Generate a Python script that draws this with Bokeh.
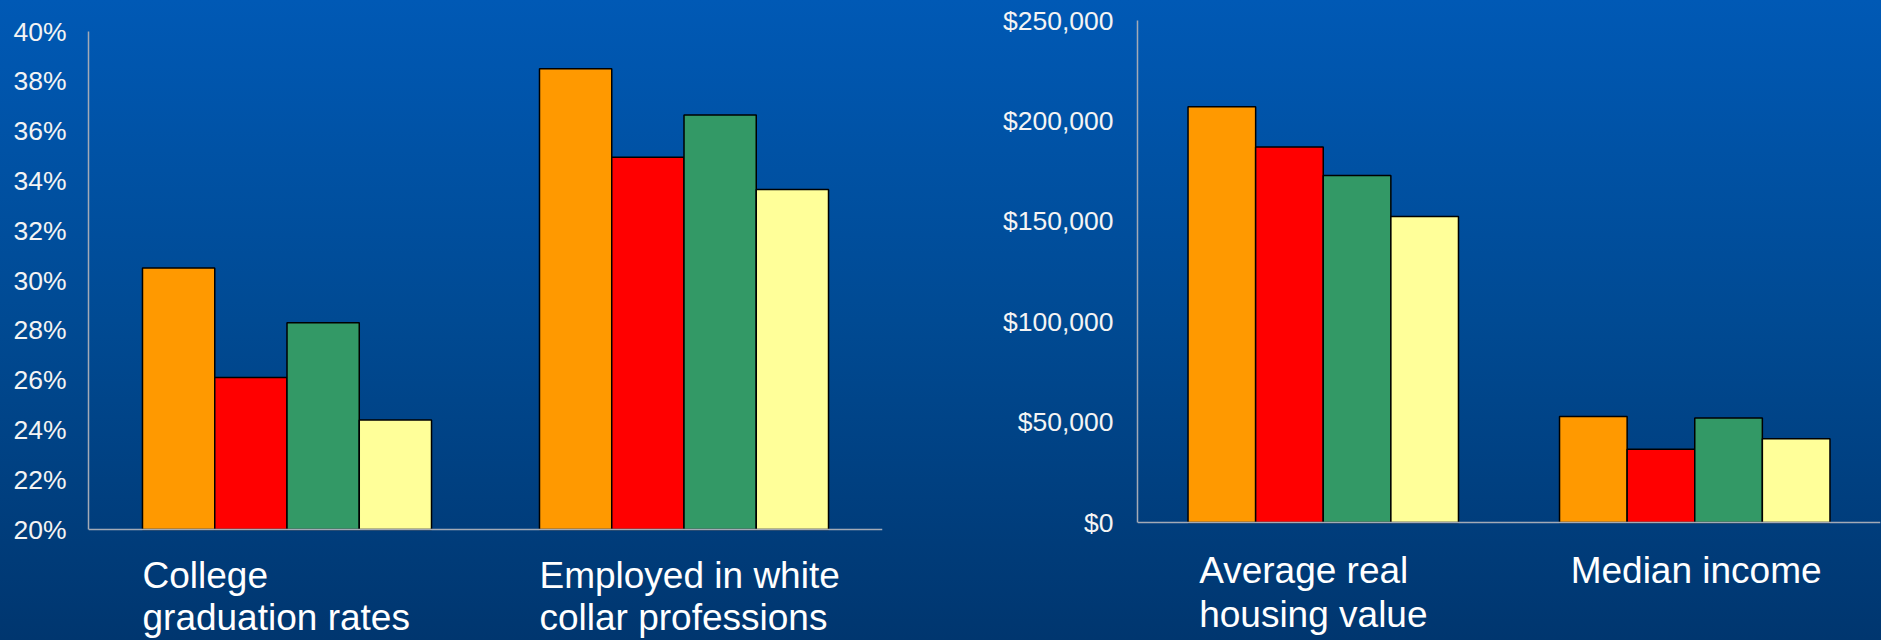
from bokeh.plotting import figure
from bokeh.layouts import row
from bokeh.models import Range1d, Span, FixedTicker
from bokeh.embed import file_html
from bokeh.resources import INLINE
from bokeh.core.properties import value

# ---------------- data ----------------
series_colors = ["#FF9900", "#FF0000", "#339966", "#FFFF99"]

left_categories = ["College\ngraduation rates", "Employed in white\ncollar professions"]
left_series_1 = [30.5, 38.5]
left_series_2 = [26.1, 34.95]
left_series_3 = [28.3, 36.65]
left_series_4 = [24.4, 33.65]
left_ticks = [20, 22, 24, 26, 28, 30, 32, 34, 36, 38, 40]
left_tick_labels = ["20%", "22%", "24%", "26%", "28%", "30%", "32%", "34%", "36%", "38%", "40%"]

right_categories = ["Average real\nhousing value", "Median income"]
right_series_1 = [207000, 52800]
right_series_2 = [187000, 36500]
right_series_3 = [172800, 52000]
right_series_4 = [152400, 41700]
right_ticks = [0, 50000, 100000, 150000, 200000, 250000]
right_tick_labels = ["$0", "$50,000", "$100,000", "$150,000", "$200,000", "$250,000"]

# ---------------- style ----------------
FONT = "Liberation Sans"
AXIS_COLOR = "#a3aab6"
TICK_TEXT = "#f4f4f4"
BAR_W = 0.182
HEIGHT = 640
BORDER_TOP = 20


def make_chart(categories, series, ticks, tick_labels, width, border_left, border_right,
               tick_top_px, base_px, label_shift, label_offsets, standoff):
    base = ticks[0]
    top = ticks[-1]
    units_per_px = (top - base) / (base_px - tick_top_px)
    range_top = top + (tick_top_px - BORDER_TOP) * units_per_px
    range_bottom = base - (HEIGHT - base_px) * units_per_px
    n = len(categories)
    p = figure(width=width, height=HEIGHT,
               x_range=Range1d(0, n), y_range=Range1d(range_bottom, range_top),
               x_axis_location=None, output_backend="svg", toolbar_location=None,
               min_border_left=border_left, min_border_right=border_right,
               min_border_top=BORDER_TOP, min_border_bottom=0)
    p.background_fill_alpha = 0
    p.border_fill_alpha = 0
    p.outline_line_color = None
    p.xgrid.visible = False
    p.ygrid.visible = False

    ax = p.yaxis[0]
    ax.ticker = FixedTicker(ticks=ticks)
    ax.major_label_overrides = {t: l for t, l in zip(ticks, tick_labels)}
    ax.bounds = (base, top)
    ax.axis_line_color = AXIS_COLOR
    ax.axis_line_width = 1.5
    ax.major_tick_line_color = None
    ax.minor_tick_line_color = None
    ax.major_label_text_font = FONT
    ax.major_label_text_font_size = "26.5px"
    ax.major_label_text_color = TICK_TEXT
    ax.major_label_standoff = standoff

    p.add_layout(Span(location=base, dimension="width", line_color=AXIS_COLOR, line_width=1.5))

    for j, (vals, color) in enumerate(zip(series, series_colors)):
        xs = [i + 0.5 + (j - 1.5) * BAR_W for i in range(n)]
        p.vbar(x=xs, top=vals, bottom=base, width=BAR_W, fill_color=color,
               line_color="black", line_width=1.5)

    lines = [c.split("\n") for c in categories]
    for k, off in enumerate(label_offsets):
        xs, ys, ts = [], [], []
        for i, ls in enumerate(lines):
            if k < len(ls):
                xs.append(i + 0.5 + label_shift)
                ys.append(base)
                ts.append(ls[k])
        p.text(x=xs, y=ys, text=ts, y_offset=off, text_font=value(FONT),
               text_font_size="37px", text_color="white",
               text_align="left", text_baseline="alphabetic")
    return p


left = make_chart(left_categories,
                  [left_series_1, left_series_2, left_series_3, left_series_4],
                  left_ticks, left_tick_labels,
                  width=940, border_left=88, border_right=58,
                  tick_top_px=31, base_px=529, label_shift=-0.364,
                  label_offsets=[46, 88], standoff=16)

right = make_chart(right_categories,
                   [right_series_1, right_series_2, right_series_3, right_series_4],
                   right_ticks, right_tick_labels,
                   width=941, border_left=197, border_right=1,
                   tick_top_px=20, base_px=522, label_shift=-0.334,
                   label_offsets=[48, 92], standoff=18)

layout = row(left, right)

html = file_html(layout, INLINE, title="Bar charts")
css = ("<style>html,body{margin:0;padding:0;overflow:hidden;}"
       "html{background:linear-gradient(180deg,#0059b5 0%,#004a93 50%,#00366f 100%);"
       "min-height:100%;} body{background:transparent;}</style>")
html = html.replace("</head>", css + "</head>", 1)
open("out.html", "w").write(html)
